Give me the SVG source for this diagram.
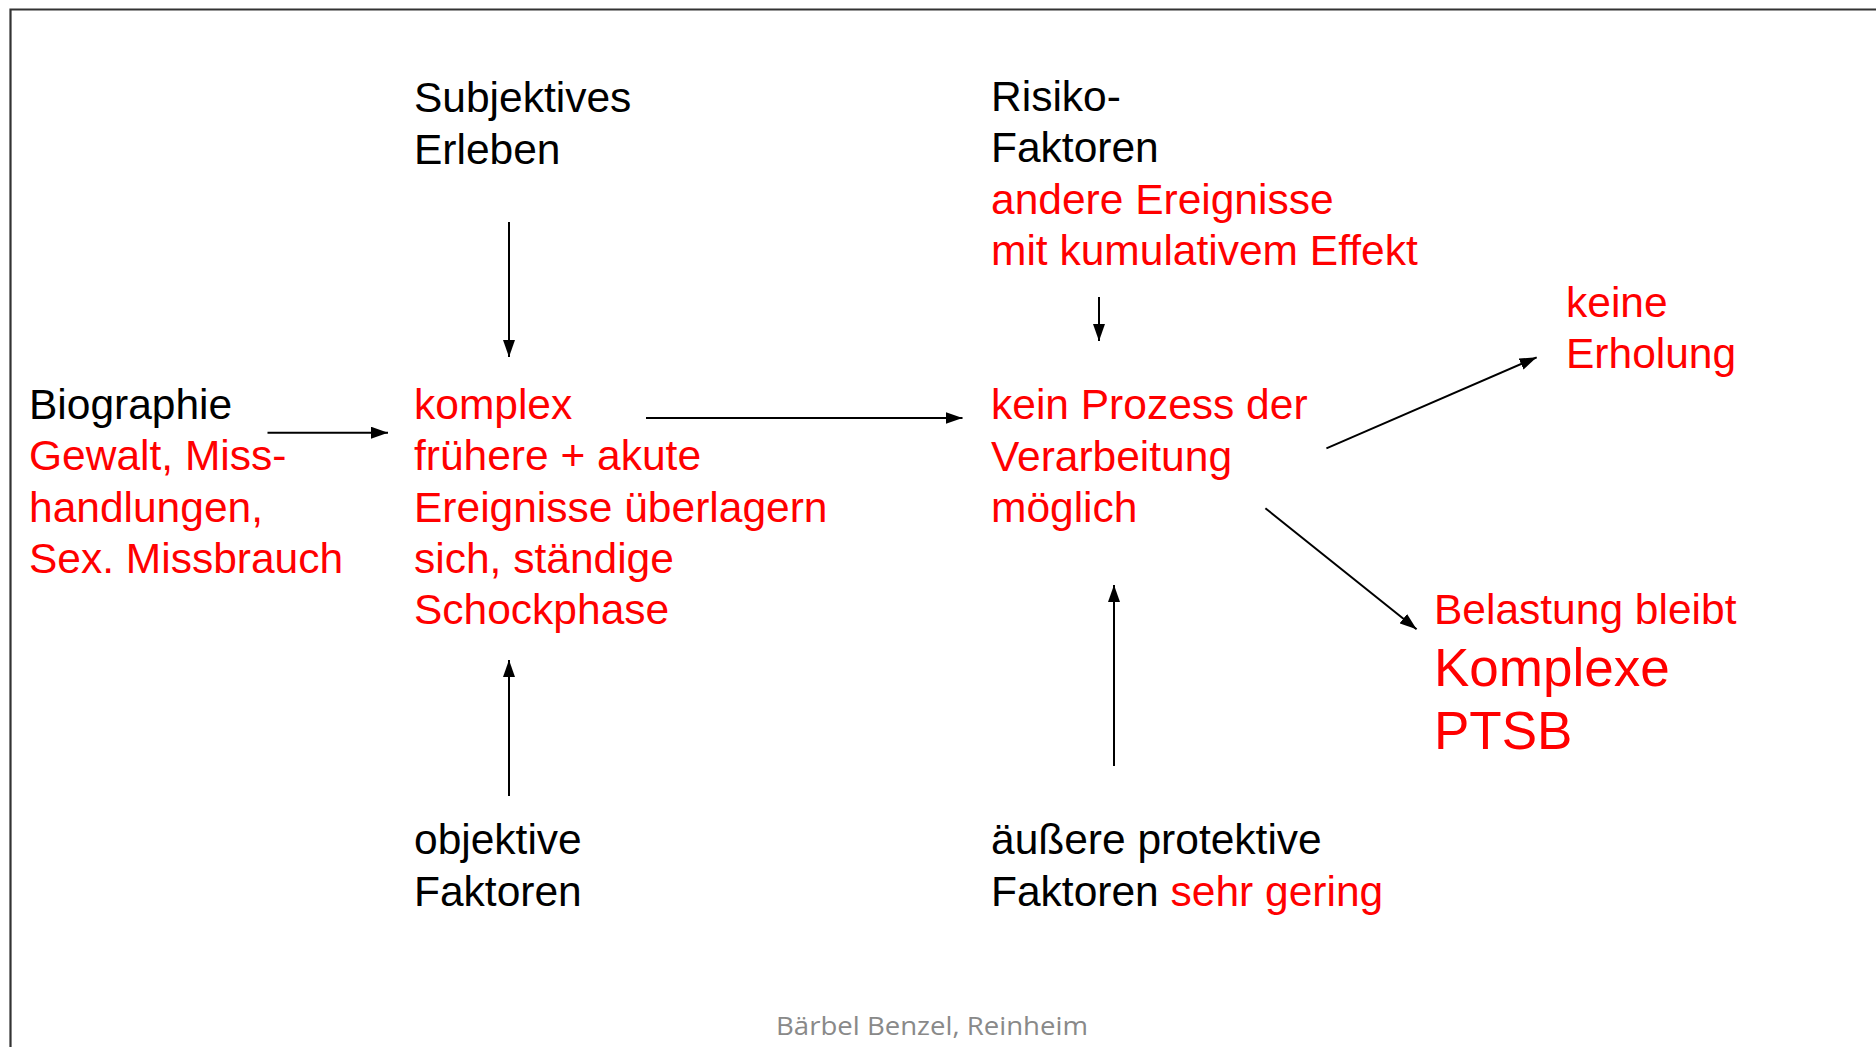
<svg xmlns="http://www.w3.org/2000/svg" width="1876" height="1047" viewBox="0 0 1876 1047">
  <style>
    .t { font-family: "Liberation Sans", Arial, sans-serif; font-size: 42.5px; fill: #000000; }
    .r { fill: #FF0000; }
    .big { font-size: 53px; }
    .foot { font-family: "Open Sans", "Noto Sans", sans-serif; font-size: 26px; fill: #898989; }
    .c { stroke: #000000; stroke-width: 2; fill: none; marker-end: url(#ah); }
  </style>
  <defs>
    <marker id="ah" markerUnits="userSpaceOnUse" markerWidth="17" markerHeight="12" refX="17" refY="6" orient="auto">
      <path d="M0,0 L17,6 L0,12 z" fill="#000000"/>
    </marker>
  </defs>
  <rect width="1876" height="1047" fill="#FFFFFF"/>
  <path d="M10.5,1047 L10.5,9.5 L1876,9.5" stroke="#333333" stroke-width="2.2" fill="none"/>

  <g id="connectors">
    <line class="c" x1="509" y1="222" x2="509" y2="357"/>
    <line class="c" x1="509" y1="796" x2="509" y2="660"/>
    <line class="c" x1="267.5" y1="432.7" x2="388" y2="432.7"/>
    <line class="c" x1="646" y1="418" x2="962.5" y2="418"/>
    <line class="c" x1="1099" y1="297" x2="1099" y2="341"/>
    <line class="c" x1="1114" y1="766" x2="1114" y2="585"/>
    <line class="c" x1="1326.4" y1="448.3" x2="1536.7" y2="357.3"/>
    <line class="c" x1="1265.4" y1="508.3" x2="1416.6" y2="629.3"/>
  </g>

  <g id="subjektives">
    <text class="t" x="414" y="112">Subjektives</text>
    <text class="t" x="414" y="163.5">Erleben</text>
  </g>
  <g id="risiko">
    <text class="t" x="991" y="110.5">Risiko-</text>
    <text class="t" x="991" y="162">Faktoren</text>
    <text class="t r" x="991" y="213.5">andere Ereignisse</text>
    <text class="t r" x="991" y="265.2">mit kumulativem Effekt</text>
  </g>
  <g id="keine-erholung">
    <text class="t r" x="1566" y="317">keine</text>
    <text class="t r" x="1566" y="368">Erholung</text>
  </g>
  <g id="biographie">
    <text class="t" x="29" y="418.8">Biographie</text>
    <text class="t r" x="29" y="470">Gewalt, Miss-</text>
    <text class="t r" x="29" y="521.5">handlungen,</text>
    <text class="t r" x="29" y="573">Sex. Missbrauch</text>
  </g>
  <g id="komplex">
    <text class="t r" x="414" y="418.8">komplex</text>
    <text class="t r" x="414" y="470">frühere + akute</text>
    <text class="t r" x="414" y="521.5">Ereignisse überlagern</text>
    <text class="t r" x="414" y="573">sich, ständige</text>
    <text class="t r" x="414" y="623.8">Schockphase</text>
  </g>
  <g id="verarbeitung">
    <text class="t r" x="991" y="418.8">kein Prozess der</text>
    <text class="t r" x="991" y="470.5">Verarbeitung</text>
    <text class="t r" x="991" y="522">möglich</text>
  </g>
  <g id="belastung">
    <text class="t r" x="1434" y="623.8">Belastung bleibt</text>
    <text class="t r big" x="1434" y="685.5">Komplexe</text>
    <text class="t r big" x="1434" y="748.8">PTSB</text>
  </g>
  <g id="objektive">
    <text class="t" x="414" y="853.8">objektive</text>
    <text class="t" x="414" y="905.5">Faktoren</text>
  </g>
  <g id="protektive">
    <text class="t" x="991" y="853.8">äußere protektive</text>
    <text class="t" x="991" y="905.5">Faktoren <tspan class="r">sehr gering</tspan></text>
  </g>
  <g id="footer">
    <text class="foot" x="776" y="1035" textLength="312" lengthAdjust="spacingAndGlyphs">Bärbel Benzel, Reinheim</text>
  </g>
</svg>
